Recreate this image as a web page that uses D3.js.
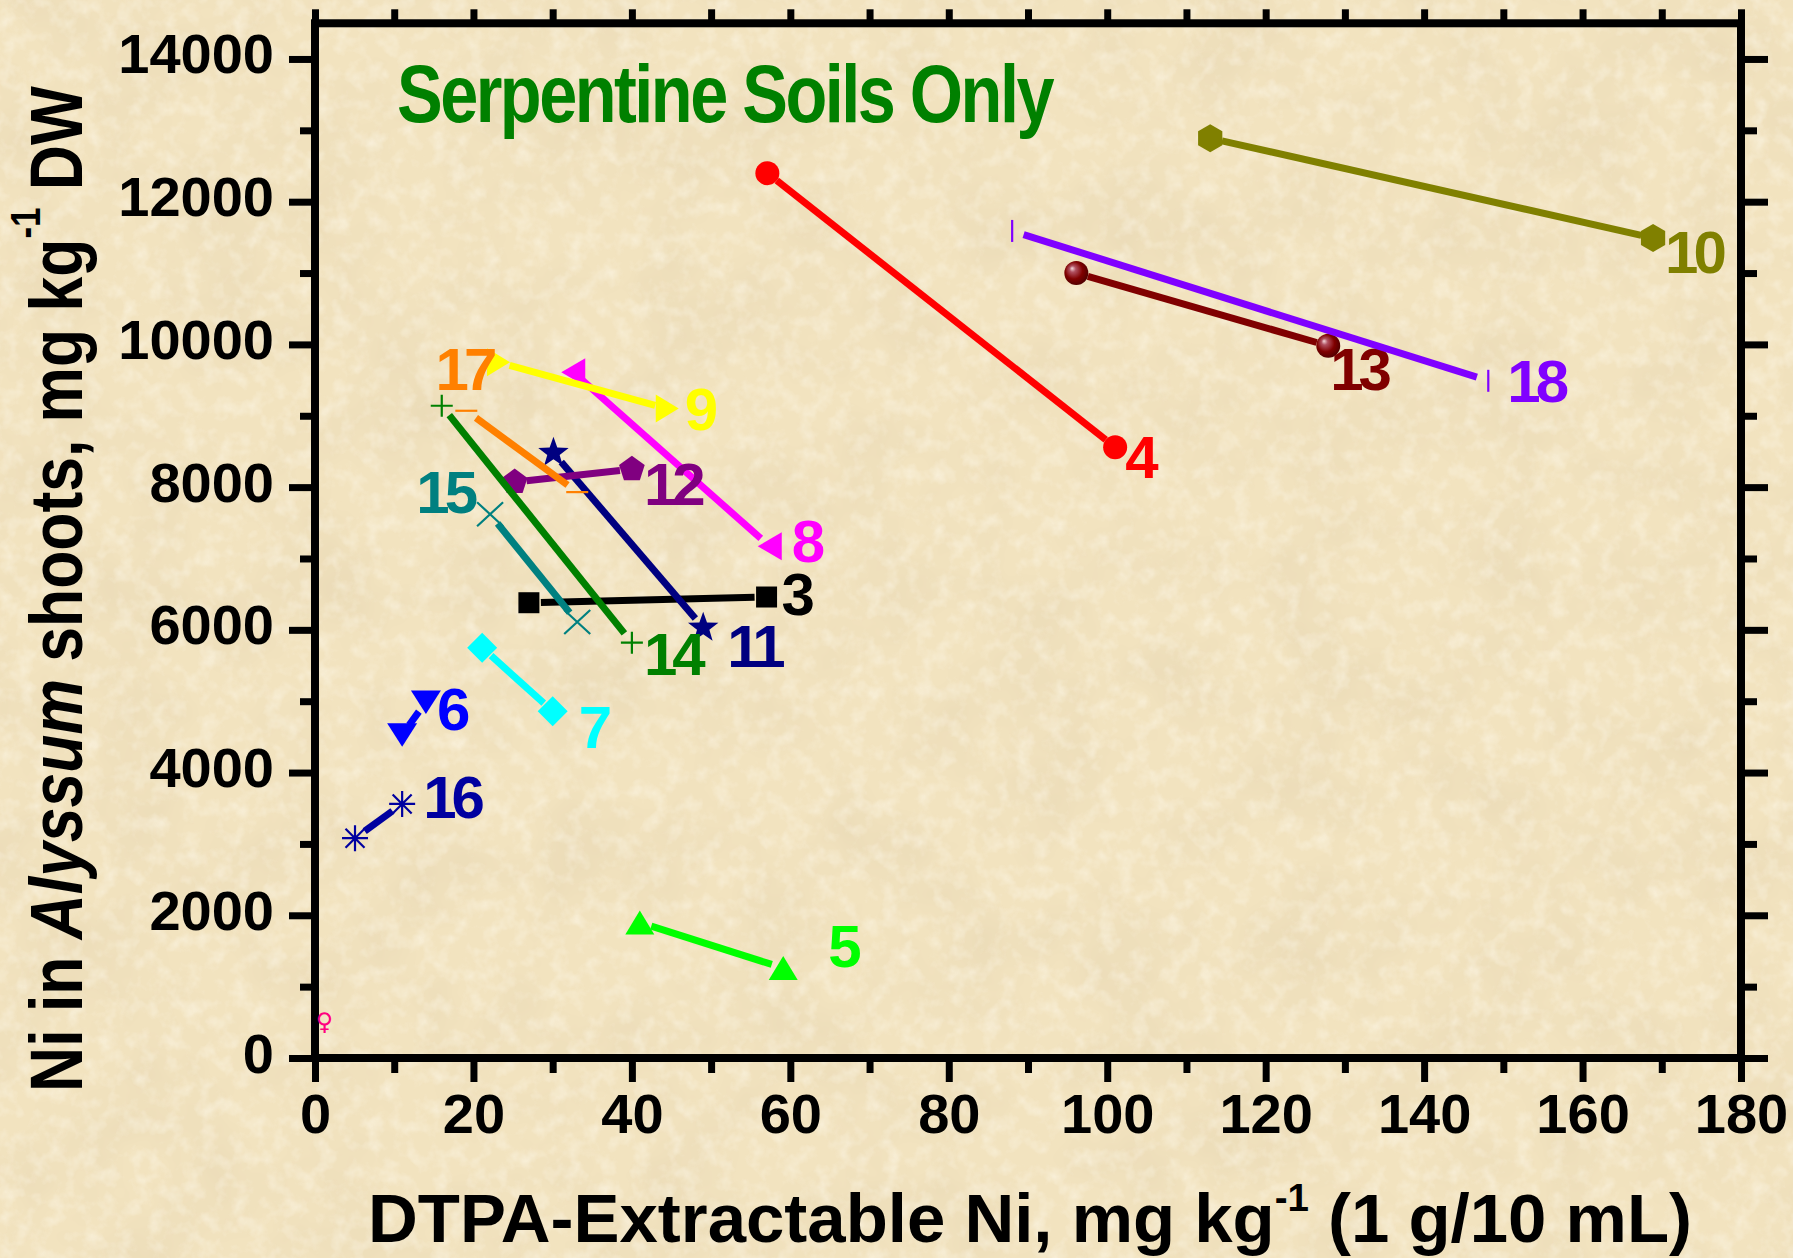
<!DOCTYPE html>
<html><head><meta charset="utf-8">
<script src="https://cdn.jsdelivr.net/npm/d3@7"></script>
<style>
html,body{margin:0;padding:0;background:#f2e3bf;}
svg{display:block;}
text{font-family:"Liberation Sans",Arial,Helvetica,sans-serif;}
</style></head><body>
<svg id="chart" width="1793" height="1258"></svg>
<script>
// ---------------- DATA ----------------
const seriesIds = ["2","3","4","5","6","7","8","9","10","11","12","13","14","15","16","17","18"];
const seriesX = [
  [1.2],
  [27.0, 57.0],
  [57.1, 101.0],
  [41.0, 59.1],
  [11.0, 14.0],
  [21.1, 30.0],
  [32.6, 57.4],
  [23.1, 44.4],
  [113.0, 168.9],
  [30.1, 49.0],
  [25.2, 40.0],
  [96.1, 127.9],
  [16.0, 40.0],
  [22.1, 33.1],
  [5.05, 11.0],
  [19.1, 33.1],
  [88.0, 148.1]
];
const seriesY = [
  [500],
  [6380, 6460],
  [12400, 8560],
  [1900, 1260],
  [4530, 4990],
  [5750, 4860],
  [9610, 7170],
  [9750, 9100],
  [12890, 11490],
  [8480, 6030],
  [8070, 8250],
  [11000, 9980],
  [9140, 5820],
  [7620, 6110],
  [3080, 3560],
  [9070, 7930],
  [11590, 9490]
];
const xMajorTicks = [0, 20, 40, 60, 80, 100, 120, 140, 160, 180];
const xMinorTicks = [10, 30, 50, 70, 90, 110, 130, 150, 170];
const xTopTicks = [0, 10, 20, 30, 40, 50, 60, 70, 80, 90, 100, 110, 120, 130, 140, 150, 160, 170, 180];
const yMajorTicks = [0, 2000, 4000, 6000, 8000, 10000, 12000, 14000];
const yMinorTicks = [1000, 3000, 5000, 7000, 9000, 11000, 13000];
const titleText = "Serpentine Soils Only";

// ---------------- STYLE ----------------
const seriesStyle = {
  "2":  {color:"#ff0080", marker:"female"},
  "3":  {color:"#000000", marker:"square",   label:[1, 18, 18, "start"]},
  "4":  {color:"#ff0000", marker:"circle",   label:[1, 13, 31, "start"]},
  "5":  {color:"#00ff00", marker:"triUp",    label:[1, 48, -1, "start"]},
  "6":  {color:"#0000ff", marker:"triDown",  label:[1, 14, 28, "start"]},
  "7":  {color:"#00ffff", marker:"diamond",  label:[1, 29, 37, "start"]},
  "8":  {color:"#ff00ff", marker:"triLeft",  label:[1, 25, 16, "start"]},
  "9":  {color:"#ffff00", marker:"triRight", label:[1, 21, 21, "start"]},
  "10": {color:"#808000", marker:"hexagon",  label:[1, 15, 35, "start"]},
  "11": {color:"#000080", marker:"star",     label:[1, 27, 39, "start"]},
  "12": {color:"#800080", marker:"pentagon", label:[1, 15, 36, "start"]},
  "13": {color:"#800000", marker:"sphere",   label:[1, 5, 44, "start"]},
  "14": {color:"#008000", marker:"plus",     label:[1, 15, 32, "start"]},
  "15": {color:"#008080", marker:"cross",    label:[0, -20, -1, "end"]},
  "16": {color:"#0000a0", marker:"asterisk", label:[1, 24, 14, "start"]},
  "17": {color:"#ff8000", marker:"dash",     label:[0, 23, -21, "end"]},
  "18": {color:"#8000ff", marker:"bar",      label:[1, 22, 21, "start"]}
};

const svg = d3.select("#chart");
const W = 1793, H = 1258;

// ---------- background parchment ----------
const defs = svg.append("defs");
const f = defs.append("filter").attr("id","paper").attr("x",0).attr("y",0).attr("width","100%").attr("height","100%");
f.append("feTurbulence").attr("type","fractalNoise").attr("baseFrequency","0.011").attr("numOctaves",4).attr("seed",7).attr("result","n");
f.append("feColorMatrix").attr("in","n").attr("type","matrix")
  .attr("values","0 0 0 0 0.82  0 0 0 0 0.70  0 0 0 0 0.47  0 0 0 1.5 -0.58");
const f2 = defs.append("filter").attr("id","grain").attr("x",0).attr("y",0).attr("width","100%").attr("height","100%");
f2.append("feTurbulence").attr("type","fractalNoise").attr("baseFrequency","0.06").attr("numOctaves",3).attr("seed",3).attr("result","n");
f2.append("feColorMatrix").attr("in","n").attr("type","matrix")
  .attr("values","0 0 0 0 1  0 0 0 0 0.97  0 0 0 0 0.88  0 0 0 1.4 -0.62");
svg.append("rect").attr("width",W).attr("height",H).attr("fill","#f2e3bf");
svg.append("rect").attr("width",W).attr("height",H).attr("filter","url(#paper)");
svg.append("rect").attr("width",W).attr("height",H).attr("filter","url(#grain)").attr("opacity",0.7);

const grad = defs.append("radialGradient").attr("id","sphere").attr("cx","45%").attr("cy","45%").attr("r","60%").attr("fx","32%").attr("fy","30%");
grad.append("stop").attr("offset","0%").attr("stop-color","#f4d8dc");
grad.append("stop").attr("offset","22%").attr("stop-color","#b05060");
grad.append("stop").attr("offset","60%").attr("stop-color","#800000");
grad.append("stop").attr("offset","100%").attr("stop-color","#4a0000");

// ---------- scales ----------
const x = d3.scaleLinear().domain([0,180]).range([315,1741]);
const y = d3.scaleLinear().domain([0,14500]).range([1058, 1058 - 14500*0.07136]);

// ---------- axes ----------
function styleAxis(g){
  g.select(".domain").remove();
  g.selectAll(".tick line").attr("stroke","#000").attr("stroke-width",7);
  g.selectAll(".tick text").attr("fill","#000").style("font-size","56px").style("font-weight","bold")
    .style("font-family",'"Liberation Sans",Arial,sans-serif');
}
svg.append("g").attr("transform",`translate(${x(0)},0)`)
  .call(d3.axisLeft(y).tickValues(yMinorTicks).tickSize(15).tickFormat("")).call(styleAxis);
const leftAx = svg.append("g").attr("transform",`translate(${x(0)},0)`)
  .call(d3.axisLeft(y).tickValues(yMajorTicks).tickSize(26).tickPadding(15).tickFormat(d3.format("d"))).call(styleAxis);
leftAx.selectAll(".tick text").attr("dy","0.25em");
svg.append("g").attr("transform",`translate(0,${y(0)})`)
  .call(d3.axisBottom(x).tickValues(xMinorTicks).tickSize(15).tickFormat("")).call(styleAxis);
svg.append("g").attr("transform",`translate(0,${y(0)})`)
  .call(d3.axisBottom(x).tickValues(xMajorTicks).tickSize(24).tickPadding(11).tickFormat(d3.format("d"))).call(styleAxis);
svg.append("g").attr("transform",`translate(0,${y(14500)})`)
  .call(d3.axisTop(x).tickValues(xTopTicks).tickSize(14).tickFormat("")).call(styleAxis);
svg.append("g").attr("transform",`translate(${x(180)},0)`)
  .call(d3.axisRight(y).tickValues(yMajorTicks).tickSize(27).tickFormat("")).call(styleAxis);
svg.append("g").attr("transform",`translate(${x(180)},0)`)
  .call(d3.axisRight(y).tickValues(yMinorTicks).tickSize(16).tickFormat("")).call(styleAxis);
// frame
svg.append("rect").attr("x",x(0)).attr("y",y(14500)).attr("width",x(180)-x(0)).attr("height",y(0)-y(14500))
  .attr("fill","none").attr("stroke","#000").attr("stroke-width",8);

// ---------- markers ----------
function poly(n, r, rot){
  const p=[]; for(let i=0;i<n;i++){const a=rot+2*Math.PI*i/n; p.push([r*Math.cos(a), r*Math.sin(a)]);}
  return "M"+p.map(q=>q[0].toFixed(2)+","+q[1].toFixed(2)).join("L")+"Z";
}
function starPath(R, r){
  const p=[]; for(let i=0;i<10;i++){const a=-Math.PI/2+Math.PI*i/5; const rr=i%2?r:R; p.push([rr*Math.cos(a), rr*Math.sin(a)]);}
  return "M"+p.map(q=>q[0].toFixed(2)+","+q[1].toFixed(2)).join("L")+"Z";
}
const markerPaths = {
  square: "M-10.5,-10.5H10.5V10.5H-10.5Z",
  triUp: "M0,-12L14.5,12L-14.5,12Z",
  triDown: "M0,12L15,-11.5L-15,-11.5Z",
  triRight: "M12,0L-11,-14L-11,14Z",
  triLeft: "M-12,0L12,-14L12,14Z",
  diamond: "M0,-15L15,0L0,15L-15,0Z",
  hexagon: poly(6, 14, -Math.PI/2),
  pentagon: poly(5, 13.5, -Math.PI/2),
  star: starPath(16, 6.5),
  plus: "M-11,0H11M0,-11V11",
  cross: "M-13,-12L13,12M-13,12L13,-12",
  asterisk: "M-13,0H13M0,-13V13M-9.5,-9.5L9.5,9.5M-9.5,9.5L9.5,-9.5",
  dash: "M-11,0H11",
  bar: "M0,-11V11"
};
const strokeMarkers = new Set(["plus","cross","asterisk","dash","bar"]);

const plot = svg.append("g");
const gap = 12;
seriesIds.forEach((id, i) => {
  const st = seriesStyle[id];
  const pts = seriesX[i].map((xv, j) => [x(xv), y(seriesY[i][j])]);
  const g = plot.append("g").attr("class","series s"+id);
  for (let k=0;k<pts.length-1;k++){
    const [x1,y1]=pts[k],[x2,y2]=pts[k+1];
    const L=Math.hypot(x2-x1,y2-y1); const ux=(x2-x1)/L, uy=(y2-y1)/L;
    g.append("line").attr("x1",x1+ux*gap).attr("y1",y1+uy*gap).attr("x2",x2-ux*gap).attr("y2",y2-uy*gap)
      .attr("stroke",st.color).attr("stroke-width",7).attr("stroke-linecap","butt");
  }
  pts.forEach(([px,py]) => {
    if (st.marker==="circle"){
      g.append("circle").attr("cx",px).attr("cy",py).attr("r",12).attr("fill",st.color);
    } else if (st.marker==="sphere"){
      g.append("circle").attr("cx",px).attr("cy",py).attr("r",12).attr("fill","url(#sphere)");
    } else if (st.marker==="female"){
      g.append("text").attr("x",px).attr("y",py).attr("text-anchor","middle").attr("dominant-baseline","central")
        .style("font-family","DejaVu Sans, sans-serif").style("font-size","24px").attr("fill",st.color).text("\u2640");
    } else if (strokeMarkers.has(st.marker)){
      g.append("path").attr("transform",`translate(${px},${py})`).attr("d",markerPaths[st.marker])
        .attr("fill","none").attr("stroke",st.color).attr("stroke-width",2.2);
    } else {
      g.append("path").attr("transform",`translate(${px},${py})`).attr("d",markerPaths[st.marker]).attr("fill",st.color);
    }
  });
  if (st.label){
    const [pi, dx, dy, anchor] = st.label;
    const [px,py] = pts[pi];
    g.append("text").attr("x",px+dx-(anchor==="start"?3:-3)).attr("y",py+dy).attr("text-anchor",anchor)
      .attr("fill",st.color).style("font-size","60px").style("font-weight","bold").style("letter-spacing","-5px")
      .text(id);
  }
});

// ---------- title ----------
svg.append("text").attr("x",397).attr("y",122).attr("fill","#008000")
  .style("font-size","82px").style("font-weight","bold").style("letter-spacing","-3px")
  .attr("textLength",655).attr("lengthAdjust","spacingAndGlyphs").text(titleText);

// ---------- axis titles ----------
function fitWidth(sel, target, tx, ty, rot){
  const w = sel.node().getBBox().width;
  const s = target / w;
  sel.attr("transform", `translate(${tx},${ty})` + (rot?` rotate(${rot})`:"") + ` scale(${s},1)`);
}
const xl = svg.append("text").attr("x",0).attr("y",0).attr("text-anchor","middle")
  .style("font-size","68px").style("font-weight","bold").attr("fill","#000");
xl.append("tspan").text("DTPA-Extractable Ni, mg kg");
xl.append("tspan").attr("dy",-31).style("font-size","38px").text("-1");
xl.append("tspan").attr("dy",31).text(" (1 g/10 mL)");
fitWidth(xl, 1324, 1030, 1242, 0);

const yl = svg.append("text").attr("x",0).attr("y",0).attr("text-anchor","middle")
  .style("font-size","75px").style("font-weight","bold").attr("fill","#000");
yl.append("tspan").text("Ni in ");
yl.append("tspan").style("font-style","italic").text("Alyssum");
yl.append("tspan").text(" shoots, mg kg");
yl.append("tspan").attr("dy",-42).style("font-size","42px").text("-1");
yl.append("tspan").attr("dy",42).text(" DW");
fitWidth(yl, 1006, 82, 589, -90);
</script>
</body></html>
